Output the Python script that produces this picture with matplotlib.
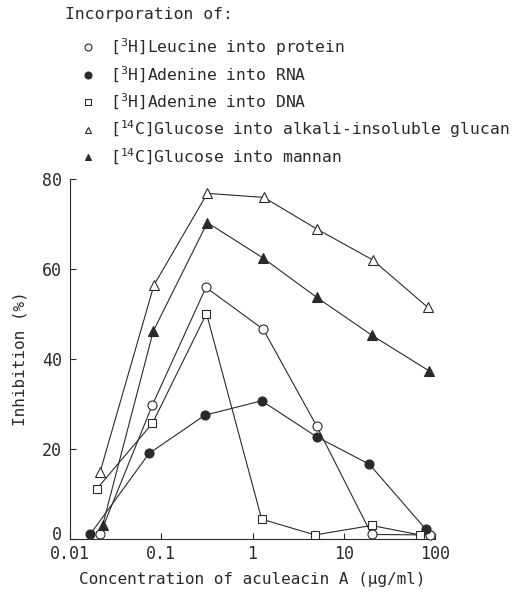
import matplotlib
matplotlib.use('Agg')
import matplotlib.pyplot as plt
from matplotlib.lines import Line2D
from matplotlib.transforms import ScaledTranslation

plt.rcParams['font.family'] = ['DejaVu Sans Mono']
plt.rcParams['mathtext.fontset'] = 'custom'
plt.rcParams['mathtext.rm'] = 'DejaVu Sans Mono'

# concentration of aculeacin A (ug/ml) (points are slightly staggered)
leu_x = [0.0213, 0.080, 0.309, 1.31, 5.05, 20.2, 88]
leu_y = [1.0, 29.8, 55.9, 46.6, 25.1, 1.0, 0.9]

rna_x = [0.0166, 0.0734, 0.30, 1.26, 5.05, 19.1, 79]
rna_y = [1.0, 19.0, 27.5, 30.7, 22.7, 16.6, 2.2]

dna_x = [0.0196, 0.080, 0.313, 1.26, 4.84, 20.2, 68.6]
dna_y = [11.1, 25.7, 50.1, 4.4, 0.9, 3.0, 0.9]

glucan_x = [0.0213, 0.0831, 0.32, 1.33, 5.05, 20.8, 83]
glucan_y = [14.8, 56.4, 76.8, 75.9, 68.9, 62.0, 51.5]

mannan_x = [0.0228, 0.0818, 0.32, 1.29, 5.05, 20.2, 87]
mannan_y = [3.1, 46.2, 70.3, 62.5, 53.7, 45.3, 37.3]

labels = ['[$^{\\mathrm{3}}$H]Leucine into protein',
          '[$^{\\mathrm{3}}$H]Adenine into RNA',
          '[$^{\\mathrm{3}}$H]Adenine into DNA',
          '[$^{\\mathrm{14}}$C]Glucose into alkali-insoluble glucan',
          '[$^{\\mathrm{14}}$C]Glucose into mannan']

ink = '#2a2a2a'
fig = plt.figure(figsize=(5.16, 5.93), dpi=100)
ax = fig.add_axes([0.1357, 0.0911, 0.7073, 0.6071])

series = [
    (leu_x, leu_y, 'o', 'white'),
    (rna_x, rna_y, 'o', ink),
    (dna_x, dna_y, 's', 'white'),
    (glucan_x, glucan_y, '^', 'white'),
    (mannan_x, mannan_y, '^', ink),
]
handles = []
for (x, y, m, fc), lab in zip(series, labels):
    ms = 6.5 if m != 's' else 6
    ax.plot(x, y, color=ink, lw=0.8, marker=m, ms=ms, mfc=fc, mec=ink,
            mew=0.8, clip_on=False, zorder=3)
    handles.append(Line2D([], [], ls='none', marker=m, ms=5, mfc=fc,
                          mec=ink, mew=0.8, label=lab))

ax.set_xscale('log')
ax.set_xlim(0.01, 100)
ax.set_ylim(0, 80)
ax.set_xticks([0.01, 0.1, 1, 10, 100])
ax.set_xticklabels(['0.01', '0.1', '1', '10', '100'])
ax.set_yticks([0, 20, 40, 60, 80])
ax.minorticks_off()
ax.spines['top'].set_visible(False)
ax.spines['right'].set_visible(False)
for s in ['left', 'bottom']:
    ax.spines[s].set_color(ink)
    ax.spines[s].set_linewidth(0.8)
ax.tick_params(direction='in', length=4, width=0.8, color=ink,
               labelsize=12, labelcolor=ink)
ax.tick_params(axis='y', pad=6)
ax.tick_params(axis='x', pad=4)
# the "0" sits a little above the axis line in the original
fig.canvas.draw()
zero = ax.get_yticklabels()[0]
zero.set_transform(zero.get_transform() + ScaledTranslation(0, 4 / 72, fig.dpi_scale_trans))

ax.set_ylabel('Inhibition (%)', fontsize=11.5, color=ink, labelpad=10)
ax.set_xlabel('Concentration of aculeacin A (\u03bcg/ml)', fontsize=11.5,
              color=ink, labelpad=7)

fig.text(65 / 516, 1 - 15 / 593, 'Incorporation of:', fontsize=11.8,
         color=ink, va='center', ha='left')
fig.legend(handles=handles, loc='upper left',
           bbox_to_anchor=(80 / 516, 1 - 36 / 593), frameon=False,
           fontsize=11.8, labelcolor=ink, handlelength=1.0,
           handletextpad=0.85, labelspacing=0.42, borderpad=0,
           borderaxespad=0)

fig.savefig('out.png', dpi=100)
